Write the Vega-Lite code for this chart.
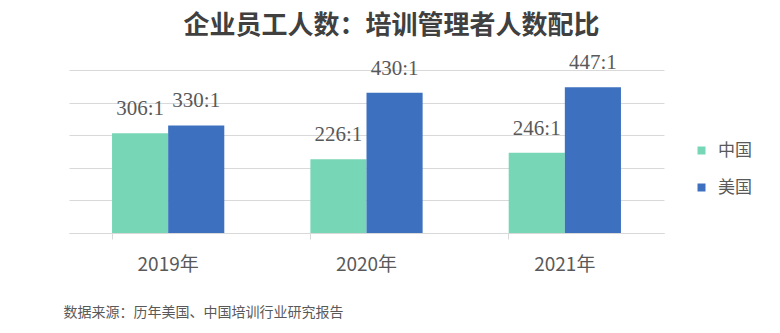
{
  "$schema": "https://vega.github.io/schema/vega-lite/v6.json",
  "width": 595,
  "height": 163,
  "autosize": {"type": "none"},
  "padding": {"left": 69, "top": 70, "right": 116, "bottom": 100},
  "background": "white",
  "config": {"view": {"stroke": null}, "font": "Noto Sans CJK SC"},
  "title": {
    "text": "企业员工人数：培训管理者人数配比",
    "font": "Noto Sans CJK SC",
    "fontSize": 26,
    "fontWeight": "bold",
    "color": "#404040",
    "anchor": "middle",
    "frame": "group",
    "dx": 25,
    "offset": 13
  },
  "data": {
    "values": [
      {"year": "2019年", "country": "中国", "value": 306, "label": "306:1"},
      {"year": "2019年", "country": "美国", "value": 330, "label": "330:1"},
      {"year": "2020年", "country": "中国", "value": 226, "label": "226:1"},
      {"year": "2020年", "country": "美国", "value": 430, "label": "430:1"},
      {"year": "2021年", "country": "中国", "value": 246, "label": "246:1"},
      {"year": "2021年", "country": "美国", "value": 447, "label": "447:1"}
    ]
  },
  "encoding": {
    "x": {
      "field": "year",
      "type": "nominal",
      "sort": null,
      "scale": {"paddingInner": 0.434, "paddingOuter": 0.217},
      "axis": {
        "title": "数据来源：历年美国、中国培训行业研究报告",
        "titleFontSize": 14,
        "titleFontWeight": "normal",
        "titleColor": "#595959",
        "titleAnchor": "start",
        "titleAlign": "left",
        "titleBaseline": "middle",
        "titleX": -6,
        "titleY": 79,
        "labelAngle": 0,
        "labelFontSize": 19,
        "labelColor": "#595959",
        "labelBaseline": "middle",
        "labelPadding": 25,
        "bandPosition": 0,
        "tickSize": 6,
        "tickColor": "#d9d9d9",
        "domainColor": "#d9d9d9",
        "grid": false
      }
    },
    "xOffset": {"field": "country", "type": "nominal", "sort": ["中国", "美国"]},
    "y": {
      "field": "value",
      "type": "quantitative",
      "scale": {"domain": [0, 500], "nice": false},
      "axis": {
        "title": null,
        "labels": false,
        "ticks": false,
        "domain": false,
        "grid": true,
        "gridColor": "#d9d9d9",
        "values": [0, 100, 200, 300, 400, 500]
      }
    }
  },
  "layer": [
    {
      "mark": {"type": "bar"},
      "encoding": {
        "color": {
          "field": "country",
          "type": "nominal",
          "sort": ["中国", "美国"],
          "scale": {"domain": ["中国", "美国"], "range": ["#77d6b5", "#3d71bf"]},
          "legend": {
            "title": null,
            "orient": "none",
            "legendX": 624,
            "legendY": 72,
            "symbolType": "square",
            "symbolSize": 64,
            "symbolStrokeWidth": 0,
            "labelFontSize": 17,
            "labelColor": "#595959",
            "labelOffset": 8,
            "rowPadding": 19
          }
        }
      }
    },
    {
      "mark": {
        "type": "text",
        "baseline": "bottom",
        "dy": -14,
        "font": "Liberation Serif",
        "fontSize": 21,
        "color": "#595959"
      },
      "encoding": {"text": {"field": "label"}}
    }
  ]
}
